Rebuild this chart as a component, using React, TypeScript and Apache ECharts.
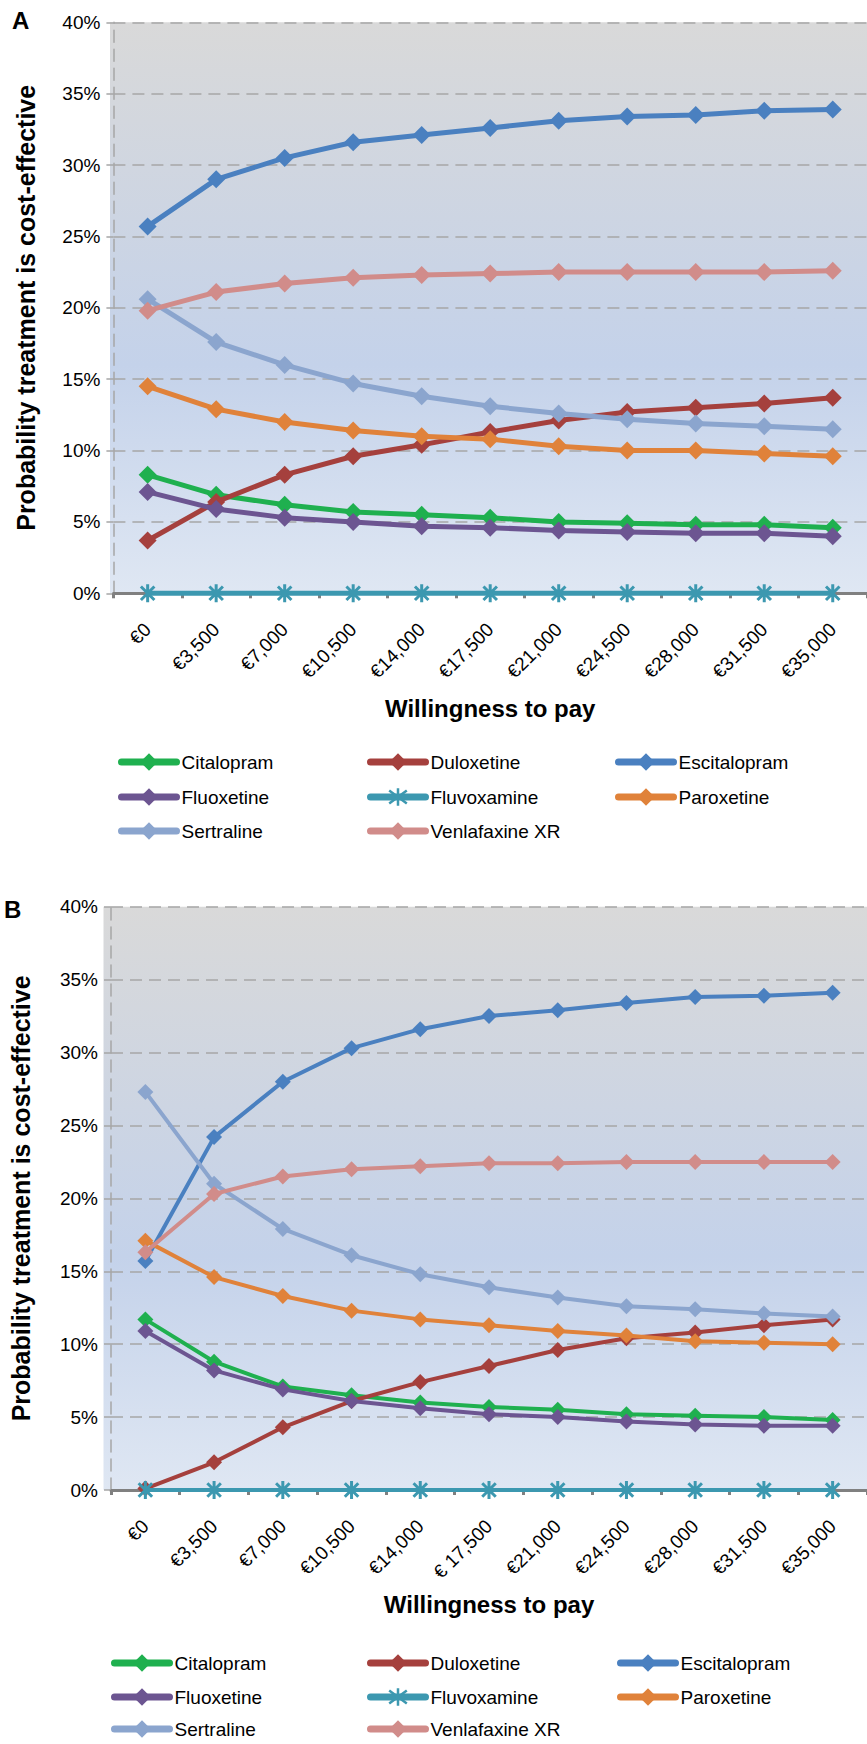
import React, { useEffect, useRef } from 'react';
import * as echarts from 'echarts';

// ---------- DATA ----------
const categoriesA = ['€0', '€3,500', '€7,000', '€10,500', '€14,000', '€17,500', '€21,000', '€24,500', '€28,000', '€31,500', '€35,000'];
const categoriesB = ['€0', '€3,500', '€7,000', '€10,500', '€14,000', '€ 17,500', '€21,000', '€24,500', '€28,000', '€31,500', '€35,000'];

const drugNames = ['Citalopram', 'Duloxetine', 'Escitalopram', 'Fluoxetine', 'Fluvoxamine', 'Paroxetine', 'Sertraline', 'Venlafaxine XR'];
const drugColors = ['#1fb04f', '#a5403d', '#4a80c0', '#6c5591', '#3c98b0', '#e0823a', '#8ba5ce', '#d18c8a'];

// Panel A (probability, %)
const citalopramA = [8.3, 6.9, 6.2, 5.7, 5.5, 5.3, 5.0, 4.9, 4.8, 4.8, 4.6];
const duloxetineA = [3.7, 6.4, 8.3, 9.6, 10.4, 11.3, 12.1, 12.7, 13.0, 13.3, 13.7];
const escitalopramA = [25.7, 29.0, 30.5, 31.6, 32.1, 32.6, 33.1, 33.4, 33.5, 33.8, 33.9];
const fluoxetineA = [7.1, 5.9, 5.3, 5.0, 4.7, 4.6, 4.4, 4.3, 4.2, 4.2, 4.0];
const fluvoxamineA = [0, 0, 0, 0, 0, 0, 0, 0, 0, 0, 0];
const paroxetineA = [14.5, 12.9, 12.0, 11.4, 11.0, 10.8, 10.3, 10.0, 10.0, 9.8, 9.6];
const sertralineA = [20.6, 17.6, 16.0, 14.7, 13.8, 13.1, 12.6, 12.2, 11.9, 11.7, 11.5];
const venlafaxineA = [19.8, 21.1, 21.7, 22.1, 22.3, 22.4, 22.5, 22.5, 22.5, 22.5, 22.6];

// Panel B (probability, %)
const citalopramB = [11.7, 8.8, 7.1, 6.5, 6.0, 5.7, 5.5, 5.2, 5.1, 5.0, 4.8];
const duloxetineB = [0.1, 1.9, 4.3, 6.1, 7.4, 8.5, 9.6, 10.4, 10.8, 11.3, 11.7];
const escitalopramB = [15.7, 24.2, 28.0, 30.3, 31.6, 32.5, 32.9, 33.4, 33.8, 33.9, 34.1];
const fluoxetineB = [10.9, 8.2, 6.9, 6.1, 5.6, 5.2, 5.0, 4.7, 4.5, 4.4, 4.4];
const fluvoxamineB = [0, 0, 0, 0, 0, 0, 0, 0, 0, 0, 0];
const paroxetineB = [17.1, 14.6, 13.3, 12.3, 11.7, 11.3, 10.9, 10.6, 10.2, 10.1, 10.0];
const sertralineB = [27.3, 21.0, 17.9, 16.1, 14.8, 13.9, 13.2, 12.6, 12.4, 12.1, 11.9];
const venlafaxineB = [16.3, 20.3, 21.5, 22.0, 22.2, 22.4, 22.4, 22.5, 22.5, 22.5, 22.5];

const seriesA = [citalopramA, duloxetineA, escitalopramA, fluoxetineA, fluvoxamineA, paroxetineA, sertralineA, venlafaxineA];
const seriesB = [citalopramB, duloxetineB, escitalopramB, fluoxetineB, fluvoxamineB, paroxetineB, sertralineB, venlafaxineB];

const yMin = 0;
const yMax = 40;
const yInterval = 5;

const yTitle = 'Probability treatment is cost-effective';
const xTitle = 'Willingness to pay';

// ---------- STYLE ----------
const FONT = '"Liberation Sans", Arial, Helvetica, sans-serif';
const ASTERISK = 'path://M10 0 L10 20 M2.5 2.5 L17.5 17.5 M2.5 17.5 L17.5 2.5';

type PanelCfg = {
  letter: string;
  letterX: number;
  letterY: number;
  cats: string[];
  values: number[][];
  grid: { left: number; top: number; width: number; height: number };
  bg: { x: number; y: number; w: number; h: number };
  yNameGap: number;
  xNameGap: number;
  lineWidth: number;
  symbolSize: number;
  legendCols: number[];
  legendRows: number[];
};

function buildOption(p: PanelCfg): any {
  const series = drugNames.map((name, i) => {
    const isStar = name === 'Fluvoxamine';
    return {
      name,
      type: 'line',
      data: p.values[i],
      clip: false,
      symbol: isStar ? ASTERISK : 'diamond',
      symbolSize: isStar ? 18 : p.symbolSize,
      symbolKeepAspect: true,
      showAllSymbol: true,
      lineStyle: { color: drugColors[i], width: p.lineWidth },
      itemStyle: isStar
        ? { color: drugColors[i], borderColor: drugColors[i], borderWidth: 3 }
        : { color: drugColors[i], borderWidth: 0 },
      emphasis: { disabled: true },
      z: 3 + i,
    };
  });

  const legends = drugNames.map((name, i) => ({
    data: [name],
    left: p.legendCols[i % 3],
    top: p.legendRows[Math.floor(i / 3)] - 11,
    padding: 0,
    itemWidth: 55,
    itemHeight: 22,
    selectedMode: false,
    lineStyle: { width: 7, cap: 'round' },
    itemStyle: name === 'Fluvoxamine' ? { borderWidth: 2.5, borderColor: drugColors[i] } : { borderWidth: 0 },
    textStyle: { fontSize: 19, color: '#000', fontFamily: FONT, lineHeight: 22 },
  }));

  return {
    animation: false,
    backgroundColor: '#fff',
    textStyle: { fontFamily: FONT },
    grid: { ...p.grid, containLabel: false, show: false },
    graphic: [
      {
        type: 'rect',
        z: -10,
        silent: true,
        shape: { x: p.bg.x, y: p.bg.y, width: p.bg.w, height: p.bg.h },
        style: {
          fill: new echarts.graphic.LinearGradient(0, 0, 0, 1, [
            { offset: 0, color: '#d9d9d9' },
            { offset: 0.6, color: '#c4d2ea' },
            { offset: 1, color: '#dfe7f3' },
          ]),
        },
      },
      {
        type: 'text',
        left: p.letterX,
        top: p.letterY,
        style: { text: p.letter, font: `bold 24px ${FONT}`, fill: '#000' },
      },
    ],
    xAxis: {
      type: 'category',
      data: p.cats,
      boundaryGap: true,
      name: xTitle,
      nameLocation: 'middle',
      nameGap: p.xNameGap,
      nameTextStyle: { fontSize: 24, fontWeight: 'bold', color: '#000', fontFamily: FONT },
      axisLine: { show: true, lineStyle: { color: '#808080', width: 3 } },
      axisTick: { show: true, length: 5, lineStyle: { color: '#808080', width: 3 } },
      axisLabel: { rotate: 45, margin: 33, fontSize: 19, color: '#000', fontFamily: FONT, interval: 0 },
      splitLine: { show: false },
    },
    yAxis: {
      type: 'value',
      min: yMin,
      max: yMax,
      interval: yInterval,
      name: yTitle,
      nameLocation: 'middle',
      nameRotate: 90,
      nameGap: p.yNameGap,
      nameTextStyle: { fontSize: 25, fontWeight: 'bold', color: '#000', fontFamily: FONT },
      axisLine: { show: true, lineStyle: { color: '#a6a6a6', width: 1.5, type: [12, 7] } },
      axisTick: { show: true, length: 7, lineStyle: { color: '#a6a6a6', width: 1.5 } },
      axisLabel: { formatter: '{value}%', fontSize: 19, color: '#000', fontFamily: FONT, margin: 13 },
      splitLine: { show: true, lineStyle: { color: '#a6a6a6', width: 1.5, type: [12, 7] } },
    },
    legend: legends,
    series,
  };
}

const panelA: PanelCfg = {
  letter: 'A',
  letterX: 12,
  letterY: 8,
  cats: categoriesA,
  values: seriesA,
  grid: { left: 113.4, top: 22.3, width: 754.2, height: 571 },
  bg: { x: 110, y: 22.3, w: 760, h: 571 },
  yNameGap: 75,
  xNameGap: 103,
  lineWidth: 5,
  symbolSize: 18,
  legendCols: [118, 367, 615],
  legendRows: [762, 797, 831],
};

const panelB: PanelCfg = {
  letter: 'B',
  letterX: 4,
  letterY: 37,
  cats: categoriesB,
  values: seriesB,
  grid: { left: 106.7, top: 46.7, width: 770, height: 583.3 },
  bg: { x: 103.5, y: 46.7, w: 770, h: 583.3 },
  yNameGap: 78,
  xNameGap: 102,
  lineWidth: 4,
  symbolSize: 16,
  legendCols: [111, 367, 617],
  legendRows: [803, 837, 869],
};

function Panel({ cfg, top, height }: { cfg: PanelCfg; top: number; height: number }) {
  const ref = useRef<HTMLDivElement | null>(null);
  useEffect(() => {
    if (!ref.current) return;
    const chart = echarts.init(ref.current, undefined, { renderer: 'svg' });
    chart.setOption(buildOption(cfg));
    return () => chart.dispose();
  }, [cfg]);
  return <div ref={ref} style={{ position: 'absolute', left: 0, top, width: 867, height }} />;
}

export default function App() {
  return (
    <div style={{ position: 'absolute', left: 0, top: 0, width: 867, height: 1744, background: '#fff', overflow: 'hidden' }}>
      <Panel cfg={panelA} top={0} height={860} />
      <Panel cfg={panelB} top={860} height={884} />
    </div>
  );
}
